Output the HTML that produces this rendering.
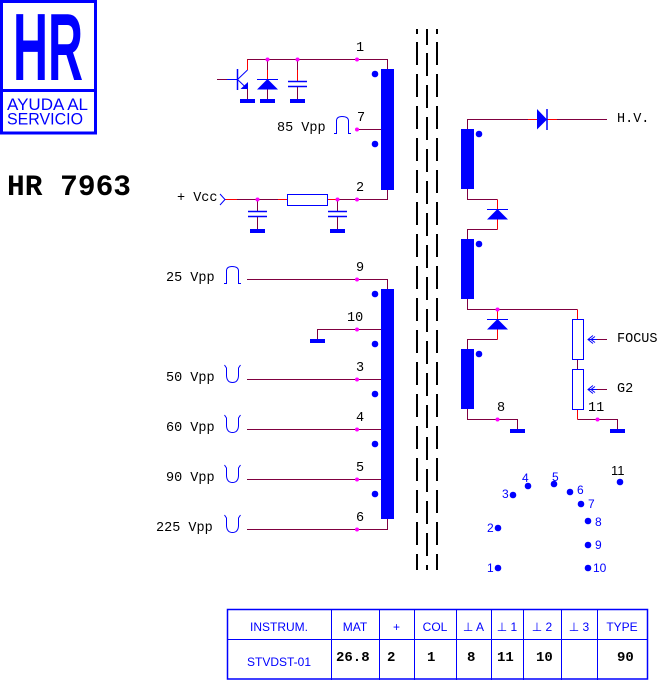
<!DOCTYPE html>
<html><head><meta charset="utf-8"><style>
html,body{margin:0;padding:0;background:#fff;}
svg{display:block;}
.m{font-family:"Liberation Mono","DejaVu Sans Mono",monospace;font-size:13.5px;fill:#000;}
.s{font-family:"Liberation Sans","DejaVu Sans",sans-serif;font-size:12px;fill:#0000ff;}
.b{font-family:"Liberation Mono",monospace;font-size:14px;font-weight:bold;fill:#000;}
</style></head><body>
<svg width="658" height="680" viewBox="0 0 658 680" xmlns="http://www.w3.org/2000/svg">
<rect x="0" y="0" width="658" height="680" fill="#fff"/>
<!-- Logo -->
<rect x="1.5" y="1.5" width="94" height="131.5" fill="none" stroke="#0000ff" stroke-width="3"/>
<line x1="0" y1="90.5" x2="97" y2="90.5" stroke="#0000ff" stroke-width="3"/>
<text x="13" y="80" font-family="Liberation Sans, sans-serif" font-weight="bold" font-size="96" fill="#0000ff" textLength="70" lengthAdjust="spacingAndGlyphs">HR</text>
<text x="7" y="110" font-family="Liberation Sans, sans-serif" font-size="17" fill="#0000ff" textLength="81" lengthAdjust="spacingAndGlyphs">AYUDA AL</text>
<text x="7" y="124.5" font-family="Liberation Sans, sans-serif" font-size="17" fill="#0000ff" textLength="76" lengthAdjust="spacingAndGlyphs">SERVICIO</text>
<text x="7" y="195" font-family="Liberation Mono, monospace" font-weight="bold" font-size="30" fill="#000" textLength="124" lengthAdjust="spacingAndGlyphs">HR 7963</text>

<!-- Core dashed lines -->
<g stroke="#000" stroke-width="2">
<line x1="417" y1="29" x2="417" y2="34"/>
<line x1="417" y1="42" x2="417" y2="570" stroke-dasharray="23 9"/>
<line x1="437" y1="29" x2="437" y2="34"/>
<line x1="437" y1="42" x2="437" y2="570" stroke-dasharray="23 9"/>
<line x1="427" y1="29" x2="427" y2="45"/>
<line x1="427" y1="53" x2="427" y2="570" stroke-dasharray="23 9"/>
</g>

<!-- Primary wires -->
<g stroke="#800040" stroke-width="1" fill="none">
<polyline points="247,59.5 387.5,59.5 387.5,69"/>
<line x1="267.5" y1="59.5" x2="267.5" y2="70"/>
<line x1="297.5" y1="59.5" x2="297.5" y2="70"/>
<line x1="247.5" y1="89" x2="247.5" y2="99"/>
<line x1="267.5" y1="89" x2="267.5" y2="99"/>
<line x1="297.5" y1="86" x2="297.5" y2="99"/>
<line x1="217" y1="79.5" x2="227" y2="79.5"/>
<line x1="357" y1="129.5" x2="388" y2="129.5"/>
<polyline points="237,199.5 387.5,199.5 387.5,190"/>
<line x1="257.5" y1="199.5" x2="257.5" y2="211"/>
<line x1="257.5" y1="216" x2="257.5" y2="229"/>
<line x1="337.5" y1="199.5" x2="337.5" y2="211"/>
<line x1="337.5" y1="216" x2="337.5" y2="229"/>
</g>
<g stroke="#ff0000" stroke-width="1" fill="none">
<line x1="247.5" y1="59.5" x2="247.5" y2="70"/>
<line x1="267.5" y1="70" x2="267.5" y2="79"/>
<line x1="297.5" y1="70" x2="297.5" y2="81"/>
<line x1="225" y1="199.5" x2="237" y2="199.5"/>
<line x1="278" y1="199.5" x2="287" y2="199.5"/>
<line x1="328" y1="199.5" x2="337" y2="199.5"/>
</g>
<!-- transistor -->
<g stroke="#0000ff" stroke-width="1" fill="none">
<line x1="227" y1="79.5" x2="237" y2="79.5"/>
<line x1="237.5" y1="69" x2="237.5" y2="90" stroke-width="1.5"/>
<line x1="237.5" y1="79.5" x2="247.5" y2="70"/>
<line x1="237.5" y1="79.5" x2="247.5" y2="89"/>
<line x1="257" y1="79.5" x2="278" y2="79.5"/>
<line x1="288" y1="81.5" x2="307" y2="81.5" stroke-width="1.5"/>
<line x1="288" y1="86.5" x2="307" y2="86.5" stroke-width="1.5"/>
<line x1="248" y1="211.5" x2="267" y2="211.5" stroke-width="1.5"/>
<line x1="248" y1="216.5" x2="267" y2="216.5" stroke-width="1.5"/>
<line x1="328" y1="211.5" x2="347" y2="211.5" stroke-width="1.5"/>
<line x1="328" y1="216.5" x2="347" y2="216.5" stroke-width="1.5"/>
<polyline points="220,194 225,199.5 220,205"/>
<rect x="287.5" y="194.5" width="40" height="11" fill="#fff"/>
</g>
<polygon points="240.5,89 248,89 248,82" fill="#0000ff"/>
<polygon points="267.5,79 257,89.5 278,89.5" fill="#0000ff"/>
<g fill="#0000ff">
<rect x="240" y="99" width="15" height="4"/>
<rect x="260" y="99" width="15" height="4"/>
<rect x="290" y="99" width="15" height="4"/>
<rect x="250" y="229" width="15" height="4"/>
<rect x="330" y="229" width="15" height="4"/>
<rect x="381" y="69" width="13" height="121"/>
<circle cx="375" cy="74" r="3.3"/>
<circle cx="375" cy="144" r="3.3"/>
</g>
<g fill="#ff00ff">
<circle cx="267.5" cy="59.5" r="2"/>
<circle cx="297.5" cy="59.5" r="2"/>
<circle cx="357" cy="59.5" r="2"/>
<circle cx="357" cy="129.5" r="2"/>
<circle cx="257.5" cy="199.5" r="2"/>
<circle cx="337.5" cy="199.5" r="2"/>
<circle cx="357" cy="199.5" r="2"/>
</g>
<text class="m" x="356" y="51">1</text>
<text class="m" x="357" y="121">7</text>
<text class="m" x="356" y="191">2</text>
<text class="m" x="277" y="131">85 Vpp</text>
<text class="m" x="177" y="201">+ Vcc</text>
<path d="M334,133.5 L336.5,133.5 L336.5,121 Q336.5,116.5 342,116.5 Q348.5,116.5 348.5,121 L348.5,133.5 L351,133.5" fill="none" stroke="#0000ff" stroke-width="1"/>

<!-- Secondary -->
<g stroke="#800040" stroke-width="1" fill="none">
<polyline points="247,279.5 387.5,279.5 387.5,289"/>
<polyline points="317.5,339 317.5,329.5 388,329.5"/>
<line x1="247" y1="379.5" x2="388" y2="379.5"/>
<line x1="247" y1="429.5" x2="388" y2="429.5"/>
<line x1="247" y1="479.5" x2="388" y2="479.5"/>
<polyline points="247,529.5 387.5,529.5 387.5,519"/>
</g>
<g fill="#0000ff">
<rect x="381" y="289" width="13" height="230"/>
<rect x="310" y="339" width="15" height="4"/>
<circle cx="375" cy="294" r="3.3"/>
<circle cx="375" cy="344" r="3.3"/>
<circle cx="375" cy="394" r="3.3"/>
<circle cx="375" cy="444" r="3.3"/>
<circle cx="375" cy="494" r="3.3"/>
</g>
<g fill="#ff00ff">
<circle cx="357" cy="279.5" r="2"/>
<circle cx="357" cy="329.5" r="2"/>
<circle cx="357" cy="379.5" r="2"/>
<circle cx="357" cy="429.5" r="2"/>
<circle cx="357" cy="479.5" r="2"/>
<circle cx="357" cy="529.5" r="2"/>
</g>
<text class="m" x="356" y="271">9</text>
<text class="m" x="347" y="321">10</text>
<text class="m" x="356" y="371">3</text>
<text class="m" x="356" y="421">4</text>
<text class="m" x="356" y="471">5</text>
<text class="m" x="356" y="521">6</text>
<text class="m" x="166" y="281">25 Vpp</text>
<text class="m" x="166" y="381">50 Vpp</text>
<text class="m" x="166" y="431">60 Vpp</text>
<text class="m" x="166" y="481">90 Vpp</text>
<text class="m" x="156" y="531">225 Vpp</text>
<g fill="none" stroke="#0000ff" stroke-width="1">
<path d="M224,283.5 L226.5,283.5 L226.5,271 Q226.5,266.5 232,266.5 Q238.5,266.5 238.5,271 L238.5,283.5 L241,283.5"/>
<path d="M224.5,365 L226.5,368 L226.5,376 Q227,382.5 232.5,382.5 Q238,382.5 238.5,376 L238.5,368 L240.5,365"/>
<path d="M224.5,415 L226.5,418 L226.5,426 Q227,432.5 232.5,432.5 Q238,432.5 238.5,426 L238.5,418 L240.5,415"/>
<path d="M224.5,465 L226.5,468 L226.5,476 Q227,482.5 232.5,482.5 Q238,482.5 238.5,476 L238.5,468 L240.5,465"/>
<path d="M224.5,515 L226.5,518 L226.5,526 Q227,532.5 232.5,532.5 Q238,532.5 238.5,526 L238.5,518 L240.5,515"/>
</g>

<!-- Right side HV -->
<g stroke="#800040" stroke-width="1" fill="none">
<polyline points="467.5,129 467.5,119.5 528,119.5"/>
<line x1="557" y1="119.5" x2="607" y2="119.5"/>
<polyline points="467.5,189 467.5,199.5 497.5,199.5"/>
<polyline points="497.5,229.5 467.5,229.5 467.5,239"/>
<polyline points="467.5,299 467.5,309.5 577.5,309.5"/>
<polyline points="497.5,339.5 467.5,339.5 467.5,349"/>
<polyline points="467.5,409 467.5,419.5 517.5,419.5 517.5,429"/>
<line x1="577.5" y1="359.5" x2="577.5" y2="369.5"/>
<polyline points="577.5,419.5 617.5,419.5 617.5,429"/>
<line x1="593" y1="339.5" x2="607" y2="339.5"/>
<line x1="593" y1="389.5" x2="607" y2="389.5"/>
</g>
<g stroke="#ff0000" stroke-width="1" fill="none">
<line x1="528" y1="119.5" x2="537" y2="119.5"/>
<line x1="547" y1="119.5" x2="557" y2="119.5"/>
<line x1="497.5" y1="199.5" x2="497.5" y2="209"/>
<line x1="497.5" y1="219" x2="497.5" y2="229.5"/>
<line x1="497.5" y1="309.5" x2="497.5" y2="319"/>
<line x1="497.5" y1="329" x2="497.5" y2="339.5"/>
<line x1="577.5" y1="309.5" x2="577.5" y2="319.5"/>
<line x1="577.5" y1="409.5" x2="577.5" y2="419.5"/>
</g>
<g fill="#0000ff">
<rect x="461" y="129" width="13" height="60"/>
<rect x="461" y="239" width="13" height="60"/>
<rect x="461" y="349" width="13" height="60"/>
<circle cx="479" cy="134" r="3.3"/>
<circle cx="479" cy="244" r="3.3"/>
<circle cx="479" cy="354" r="3.3"/>
<polygon points="537,109 537,129.5 547,119.5"/>
<polygon points="497.5,209 487,219.5 508,219.5"/>
<polygon points="497.5,319 487,329.5 508,329.5"/>
<rect x="510" y="429" width="15" height="4"/>
<rect x="610" y="429" width="15" height="4"/>
</g>
<g stroke="#0000ff" stroke-width="1" fill="none">
<line x1="547" y1="109" x2="547" y2="130" stroke-width="1.5"/>
<line x1="487" y1="209.5" x2="508" y2="209.5"/>
<line x1="487" y1="319.5" x2="508" y2="319.5"/>
<rect x="572.5" y="319.5" width="11" height="40" fill="#fff"/>
<rect x="572.5" y="369.5" width="11" height="40" fill="#fff"/>
<line x1="588" y1="339.5" x2="597" y2="339.5"/>
<polyline points="593,335.5 588,339.5 593,343.5"/>
<polyline points="595,336.5 591,339.5 595,342.5"/>
<line x1="588" y1="389.5" x2="597" y2="389.5"/>
<polyline points="593,385.5 588,389.5 593,393.5"/>
<polyline points="595,386.5 591,389.5 595,392.5"/>
</g>
<g fill="#ff00ff">
<circle cx="497.5" cy="309.5" r="2"/>
<circle cx="497.5" cy="419.5" r="2"/>
<circle cx="597.5" cy="419.5" r="2"/>
</g>
<text class="m" x="617" y="122">H.V.</text>
<text class="m" x="617" y="342">FOCUS</text>
<text class="m" x="617" y="392">G2</text>
<text class="m" x="497" y="411">8</text>
<text class="m" x="588" y="411">11</text>

<!-- Pin diagram -->
<g fill="#0000ff">
<circle cx="498" cy="568" r="3.3"/>
<circle cx="498" cy="528" r="3.3"/>
<circle cx="513" cy="495" r="3.3"/>
<circle cx="528" cy="486" r="3.3"/>
<circle cx="554" cy="484" r="3.3"/>
<circle cx="570" cy="492" r="3.3"/>
<circle cx="581" cy="504" r="3.3"/>
<circle cx="588" cy="521" r="3.3"/>
<circle cx="588" cy="545" r="3.3"/>
<circle cx="588" cy="568" r="3.3"/>
<circle cx="620" cy="482" r="3.3"/>
</g>
<text class="s" x="487" y="572">1</text>
<text class="s" x="487" y="532">2</text>
<text class="s" x="502" y="498">3</text>
<text class="s" x="522" y="482">4</text>
<text class="s" x="552" y="481">5</text>
<text class="s" x="577" y="494">6</text>
<text class="s" x="588" y="508">7</text>
<text class="s" x="595" y="526">8</text>
<text class="s" x="595" y="549">9</text>
<text class="s" x="593" y="572">10</text>
<text x="611" y="475" font-family="Liberation Sans, sans-serif" font-size="13" fill="#000">11</text>

<!-- Table -->
<g stroke="#0000ff" stroke-width="1" fill="none">
<rect x="227.5" y="609.5" width="420" height="69.5" stroke-width="1.5"/>
<line x1="227" y1="639.5" x2="648" y2="639.5"/>
<line x1="331.5" y1="609" x2="331.5" y2="680"/>
<line x1="379.5" y1="609" x2="379.5" y2="680"/>
<line x1="414.5" y1="609" x2="414.5" y2="680"/>
<line x1="456.5" y1="609" x2="456.5" y2="680"/>
<line x1="491.5" y1="609" x2="491.5" y2="680"/>
<line x1="523.5" y1="609" x2="523.5" y2="680"/>
<line x1="561.5" y1="609" x2="561.5" y2="680"/>
<line x1="597.5" y1="609" x2="597.5" y2="680"/>
</g>
<g class="s" text-anchor="middle">
<text class="s" x="279" y="631">INSTRUM.</text>
<text class="s" x="355" y="631">MAT</text>
<text class="s" x="396.5" y="631">+</text>
<text class="s" x="435" y="631">COL</text>
<text class="s" x="473.5" y="631">⊥ A</text>
<text class="s" x="507" y="631">⊥ 1</text>
<text class="s" x="542" y="631">⊥ 2</text>
<text class="s" x="579" y="631">⊥ 3</text>
<text class="s" x="622" y="631">TYPE</text>
<text class="s" x="279" y="666">STVDST-01</text>
</g>
<text class="b" x="336" y="661">26.8</text>
<text class="b" x="387" y="661">2</text>
<text class="b" x="427" y="661">1</text>
<text class="b" x="467" y="661">8</text>
<text class="b" x="497" y="661">11</text>
<text class="b" x="536" y="661">10</text>
<text class="b" x="617" y="661">90</text>
</svg>
</body></html>
